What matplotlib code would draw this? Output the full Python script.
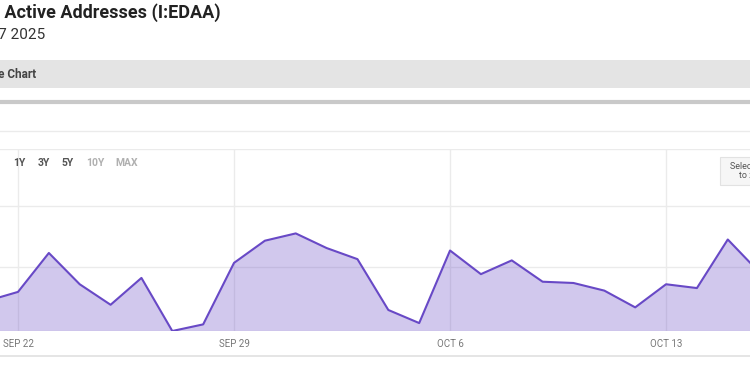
import numpy as np
import matplotlib
matplotlib.use("Agg")
import matplotlib.pyplot as plt
import matplotlib.dates as mdates
from matplotlib.patches import Rectangle
from matplotlib.lines import Line2D
from matplotlib.ticker import NullLocator

# Daily active addresses (thousands)
dates = np.arange('2025-09-21', '2025-10-17', dtype='datetime64[D]')
active_k = [823, 830, 861, 836, 820, 841, 800, 805, 853, 871, 877, 865, 856,
            816, 806, 863, 844, 855, 838, 837, 831, 818, 836, 833, 872, 846]
tick_dates = ['2025-09-22', '2025-09-29', '2025-10-06', '2025-10-13']
tick_labels = ['SEP 22', 'SEP 29', 'OCT 6', 'OCT 13']
range_buttons = ['1Y', '3Y', '5Y', '10Y', 'MAX']

W, H = 750, 370
plt.rcParams['font.family'] = ['Roboto', 'DejaVu Sans']

fig = plt.figure(figsize=(W / 100, H / 100), dpi=100)


def fx(px):
    return px / W


def fy(py):
    return 1 - py / H


# page chrome
fig.add_artist(Rectangle((0, fy(88)), 1, (88 - 59.5) / H, transform=fig.transFigure,
                         facecolor='#e4e4e4', edgecolor='none'))
fig.add_artist(Line2D([0, 1], [fy(102), fy(102)], transform=fig.transFigure,
                      color='#c9c9c9', lw=3))
fig.add_artist(Line2D([0, 1], [fy(131), fy(131)], transform=fig.transFigure,
                      color='#ebebeb', lw=1))
fig.add_artist(Line2D([0, 1], [fy(356), fy(356)], transform=fig.transFigure,
                      color='#e0e0e0', lw=1.2))

# page header (cropped at the left edge, as in the screenshot)
fig.text(fx(221), fy(17.5), 'Ethereum Daily Active Addresses (I:EDAA)', ha='right',
         va='baseline', fontsize=13, fontweight='bold', color='#222222',
         family=['Liberation Sans Narrow', 'Roboto', 'DejaVu Sans'])
fig.text(fx(45), fy(38.5), '597,617 for Oct 17 2025', ha='right', va='baseline',
         fontsize=11, color='#333333')
fig.text(fx(36), fy(77.5), 'Interactive Chart', ha='right', va='baseline',
         fontsize=8.5, fontweight='bold', color='#444444',
         family=['Liberation Sans Narrow', 'Roboto', 'DejaVu Sans'])

# range buttons
btn_x = [19, 43.5, 68, 95, 127]
btn_col = ['#555555', '#555555', '#555555', '#b0b0b0', '#b0b0b0']
for lab, x, c in zip(range_buttons, btn_x, btn_col):
    fig.text(fx(x), fy(163), lab, ha='center', va='center', fontsize=7.5,
             fontweight='bold', color=c, zorder=5)

# zoom hint box
fig.add_artist(Rectangle((fx(720), fy(184.5)), fx(40), (184.5 - 157) / H,
                         transform=fig.transFigure, facecolor='#f6f6f6',
                         edgecolor='#e2e2e2', lw=0.8, zorder=4))
fig.text(fx(755), fy(166), 'Select range', ha='center', va='center', fontsize=6.5,
         color='#555555', zorder=5)
fig.text(fx(755), fy(176), 'to zoom', ha='center', va='center', fontsize=6.5,
         color='#555555', zorder=5)

# chart area
ax = fig.add_axes([0, fy(331), 1, (331 - 148.5) / H])
ax.set_facecolor('none')
line_col = '#6849c6'
ax.fill_between(dates, active_k, 800, color=line_col, alpha=0.3, lw=0, zorder=2)
ax.plot(dates, active_k, color=line_col, lw=1.5, zorder=3)

ax.set_yscale('log')
ax.set_ylim(800, 950)
ax.set_yticks([800, 850, 900, 950])
ax.yaxis.set_minor_locator(NullLocator())
ax.set_yticklabels([])
ax.set_xlim(np.datetime64('2025-09-21T10:00'), np.datetime64('2025-10-15T17:17'))
ax.set_xticks([mdates.date2num(np.datetime64(d)) for d in tick_dates])
ax.set_xticklabels(tick_labels, fontsize=7, color='#777777')
ax.tick_params(axis='both', length=0)
ax.tick_params(axis='x', pad=6)
ax.grid(True, color='#ebebeb', lw=1, zorder=0)
ax.set_axisbelow(True)
for s in ax.spines.values():
    s.set_visible(False)

fig.savefig('out.png', dpi=100)
